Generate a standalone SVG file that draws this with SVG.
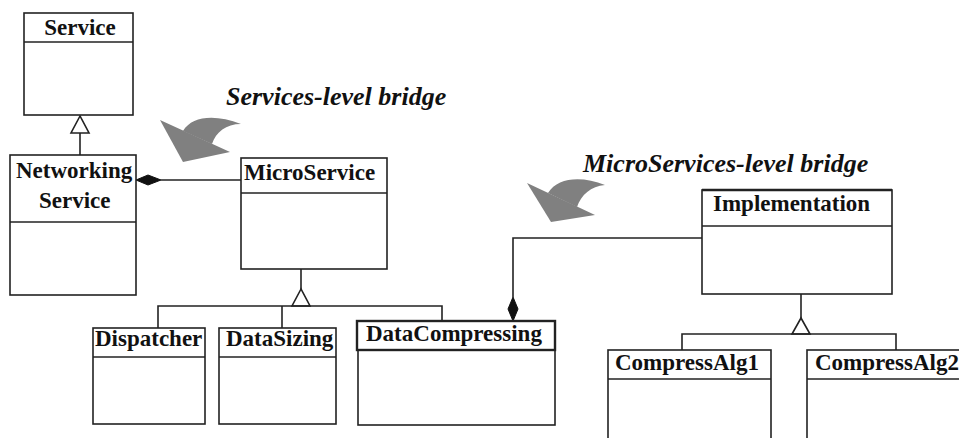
<svg xmlns="http://www.w3.org/2000/svg" width="959" height="438" viewBox="0 0 959 438">
<style>
.box{fill:#fff;stroke:#222;stroke-width:1.6}
.hdr{fill:#fff;stroke:#222;stroke-width:2.4}
.ln{fill:none;stroke:#222;stroke-width:1.6}
.lbl{font-family:"Liberation Serif","Times New Roman",serif;font-weight:bold;font-size:23px;fill:#111}
.cap{font-family:"Liberation Serif","Times New Roman",serif;font-weight:bold;font-style:italic;font-size:26px;fill:#111}
.tri{fill:#fff;stroke:#222;stroke-width:1.6}
.dia{fill:#111;stroke:#111;stroke-width:1}
.bridge{fill:#808080}
</style>
<rect width="959" height="438" fill="#fff"/>
<g id="connectors">
  <line class="ln" x1="80" y1="133" x2="80" y2="155"/>
  <polygon class="tri" points="80,116 71,133 89,133"/>
  <line class="ln" x1="161" y1="180" x2="241" y2="180"/>
  <polygon class="dia" points="136,180 148,175 161,180 148,185"/>
  <line class="ln" x1="301" y1="269" x2="301" y2="289"/>
  <polygon class="tri" points="301,289 292,306 310,306"/>
  <polyline class="ln" points="158,328 158,306 442,306 442,321"/>
  <line class="ln" x1="282" y1="306" x2="282" y2="328"/>
  <polyline class="ln" points="702,238 513,238 513,297"/>
  <polygon class="dia" points="513,297 518,309 513,321 508,309"/>
  <line class="ln" x1="801" y1="294" x2="801" y2="318"/>
  <polygon class="tri" points="801,318 792,334 810,334"/>
  <polyline class="ln" points="682,350 682,334 896,334 896,350"/>
</g>
<g id="bridge1">
  <path class="bridge" d="M160,120 L183,162 L230,152 Z"/>
  <path class="bridge" d="M183,131 C192,116 215,114 241,124 C226,124 216,132 212,144 Z"/>
  <text class="cap" x="226" y="105">Services-level bridge</text>
</g>
<g id="bridge2">
  <path class="bridge" d="M527,183 L551,222 L595,215 Z"/>
  <path class="bridge" d="M548,193 C558,177 582,176 605,185 C591,186 581,195 577,207 Z"/>
  <text class="cap" x="583" y="172">MicroServices-level bridge</text>
</g>
<g id="Service">
  <rect class="box" x="24" y="13" width="109" height="102"/>
  <line class="ln" x1="24" y1="42" x2="133" y2="42"/>
  <text class="lbl" x="80" y="35" text-anchor="middle">Service</text>
</g>
<g id="NetworkingService">
  <rect class="box" x="10" y="155" width="126" height="140"/>
  <line class="ln" x1="10" y1="222" x2="136" y2="222"/>
  <text class="lbl" x="16" y="178">Networking</text>
  <text class="lbl" x="39" y="208">Service</text>
</g>
<g id="MicroService">
  <rect class="box" x="241" y="158" width="146" height="111"/>
  <line class="ln" x1="241" y1="193" x2="387" y2="193"/>
  <text class="lbl" x="244" y="180">MicroService</text>
</g>
<g id="Dispatcher">
  <rect class="box" x="93" y="328" width="112" height="96"/>
  <line class="ln" x1="93" y1="357" x2="205" y2="357"/>
  <text class="lbl" x="95" y="346">Dispatcher</text>
</g>
<g id="DataSizing">
  <rect class="box" x="219" y="328" width="117" height="96"/>
  <line class="ln" x1="219" y1="357" x2="336" y2="357"/>
  <text class="lbl" x="226" y="346">DataSizing</text>
</g>
<g id="DataCompressing">
  <rect class="box" x="358" y="321" width="197" height="104"/>
  <rect class="hdr" x="357" y="321" width="198" height="29"/>
  <text class="lbl" x="366" y="341">DataCompressing</text>
</g>
<g id="Implementation">
  <rect class="box" x="702" y="190" width="190" height="104"/>
  <line class="ln" x1="702" y1="226" x2="892" y2="226"/>
  <line x1="702" y1="190" x2="892" y2="190" stroke="#222" stroke-width="2.4"/>
  <text class="lbl" x="713" y="211">Implementation</text>
</g>
<g id="CompressAlg1">
  <rect class="box" x="608" y="350" width="163" height="100"/>
  <line class="ln" x1="608" y1="379" x2="771" y2="379"/>
  <text class="lbl" x="615" y="370">CompressAlg1</text>
</g>
<g id="CompressAlg2">
  <rect class="box" x="807" y="350" width="170" height="100"/>
  <line class="ln" x1="807" y1="379" x2="977" y2="379"/>
  <text class="lbl" x="815" y="370">CompressAlg2</text>
</g>
</svg>
